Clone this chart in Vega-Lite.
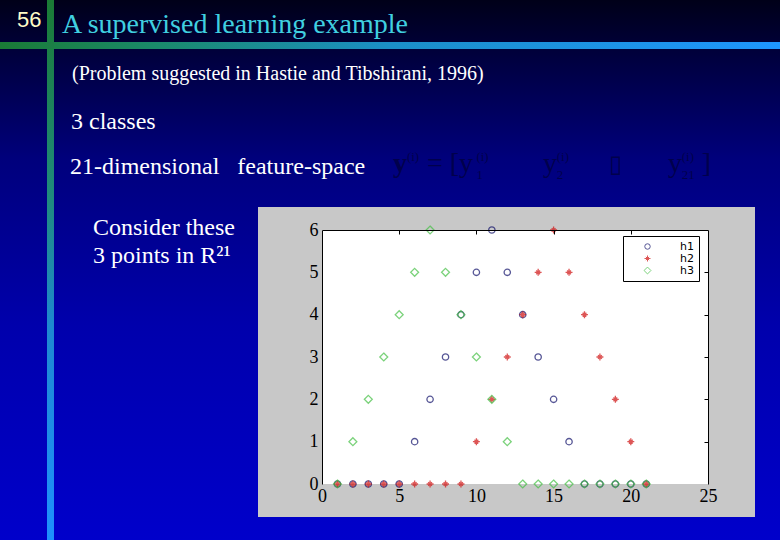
{
  "$schema": "https://vega.github.io/schema/vega-lite/v6.json",
  "width": 386,
  "height": 254,
  "autosize": {"type": "none"},
  "padding": {"left": 322, "top": 230, "right": 72, "bottom": 56},
  "background": "#000070",
  "view": {"stroke": null},
  "datasets": {
    "one": [{}],
    "waves": [
    {"i":1,"h":"h1","v":0},{"i":2,"h":"h1","v":0},{"i":3,"h":"h1","v":0},{"i":4,"h":"h1","v":0},{"i":5,"h":"h1","v":0},{"i":6,"h":"h1","v":1},{"i":7,"h":"h1","v":2},{"i":8,"h":"h1","v":3},{"i":9,"h":"h1","v":4},{"i":10,"h":"h1","v":5},{"i":11,"h":"h1","v":6},{"i":12,"h":"h1","v":5},{"i":13,"h":"h1","v":4},{"i":14,"h":"h1","v":3},{"i":15,"h":"h1","v":2},{"i":16,"h":"h1","v":1},{"i":17,"h":"h1","v":0},{"i":18,"h":"h1","v":0},{"i":19,"h":"h1","v":0},{"i":20,"h":"h1","v":0},{"i":21,"h":"h1","v":0},
    {"i":1,"h":"h2","v":0},{"i":2,"h":"h2","v":0},{"i":3,"h":"h2","v":0},{"i":4,"h":"h2","v":0},{"i":5,"h":"h2","v":0},{"i":6,"h":"h2","v":0},{"i":7,"h":"h2","v":0},{"i":8,"h":"h2","v":0},{"i":9,"h":"h2","v":0},{"i":10,"h":"h2","v":1},{"i":11,"h":"h2","v":2},{"i":12,"h":"h2","v":3},{"i":13,"h":"h2","v":4},{"i":14,"h":"h2","v":5},{"i":15,"h":"h2","v":6},{"i":16,"h":"h2","v":5},{"i":17,"h":"h2","v":4},{"i":18,"h":"h2","v":3},{"i":19,"h":"h2","v":2},{"i":20,"h":"h2","v":1},{"i":21,"h":"h2","v":0},
    {"i":1,"h":"h3","v":0},{"i":2,"h":"h3","v":1},{"i":3,"h":"h3","v":2},{"i":4,"h":"h3","v":3},{"i":5,"h":"h3","v":4},{"i":6,"h":"h3","v":5},{"i":7,"h":"h3","v":6},{"i":8,"h":"h3","v":5},{"i":9,"h":"h3","v":4},{"i":10,"h":"h3","v":3},{"i":11,"h":"h3","v":2},{"i":12,"h":"h3","v":1},{"i":13,"h":"h3","v":0},{"i":14,"h":"h3","v":0},{"i":15,"h":"h3","v":0},{"i":16,"h":"h3","v":0},{"i":17,"h":"h3","v":0},{"i":18,"h":"h3","v":0},{"i":19,"h":"h3","v":0},{"i":20,"h":"h3","v":0},{"i":21,"h":"h3","v":0}
    ]
  },
  "data": {"name": "one"},
  "resolve": {"axis": {"x": "independent", "y": "independent"}},
  "layer": [
    {
      "mark": {"type": "rect", "clip": false, "fill": {"gradient": "linear", "x1": 0, "y1": 0, "x2": 0, "y2": 1, "stops": [
        {"offset": 0, "color": "#000014"}, {"offset": 0.12, "color": "#000040"}, {"offset": 0.3, "color": "#00007c"}, {"offset": 0.6, "color": "#0000ac"}, {"offset": 1, "color": "#0000cc"}]}},
      "encoding": {
        "x": {"datum": -21, "type": "quantitative", "axis": null}, "x2": {"datum": 30},
        "y": {"datum": 11.6, "type": "quantitative", "axis": null}, "y2": {"datum": -1.5}
      }
    },
    {
      "mark": {"type": "rect", "clip": false, "fill": {"gradient": "linear", "x1": 0, "y1": 0, "x2": 1, "y2": 0, "stops": [
        {"offset": 0, "color": "#1a7a35"}, {"offset": 0.2, "color": "#1a8a6a"}, {"offset": 0.5, "color": "#1b8fc8"}, {"offset": 1, "color": "#1e96ff"}]}},
      "encoding": {
        "x": {"datum": -21, "type": "quantitative", "axis": null}, "x2": {"datum": 30},
        "y": {"datum": 10.442, "type": "quantitative", "axis": null}, "y2": {"datum": 10.276}
      }
    },
    {
      "mark": {"type": "rect", "clip": false, "fill": {"gradient": "linear", "x1": 0, "y1": 0, "x2": 0, "y2": 1, "stops": [
        {"offset": 0, "color": "#1a7a32"}, {"offset": 0.37, "color": "#1f8a7e"}, {"offset": 0.6, "color": "#1e88d0"}, {"offset": 1, "color": "#1e90ff"}]}},
      "encoding": {
        "x": {"datum": -17.811, "type": "quantitative", "axis": null}, "x2": {"datum": -17.358},
        "y": {"datum": 11.6, "type": "quantitative", "axis": null}, "y2": {"datum": -1.5}
      }
    },
    {
      "mark": {"type": "text", "clip": false, "align": "left", "baseline": "alphabetic", "font": "Liberation Sans", "fontSize": 22, "color": "#fffcc8"},
      "encoding": {"x": {"datum": -19.754, "type": "quantitative", "axis": null}, "y": {"datum": 10.796, "type": "quantitative", "axis": null}, "text": {"value": "56"}}
    },
    {
      "mark": {"type": "text", "clip": false, "align": "left", "baseline": "alphabetic", "font": "Liberation Serif", "fontSize": 28, "color": "#40d0e0"},
      "encoding": {"x": {"datum": -16.839, "type": "quantitative", "axis": null}, "y": {"datum": 10.654, "type": "quantitative", "axis": null}, "text": {"value": "A supervised learning example"}}
    },
    {
      "mark": {"type": "text", "clip": false, "align": "left", "baseline": "alphabetic", "font": "Liberation Serif", "fontSize": 20, "color": "#ffffff"},
      "encoding": {"x": {"datum": -16.192, "type": "quantitative", "axis": null}, "y": {"datum": 9.544, "type": "quantitative", "axis": null}, "text": {"value": "(Problem suggested in Hastie and Tibshirani, 1996)"}}
    },
    {
      "mark": {"type": "text", "clip": false, "align": "left", "baseline": "alphabetic", "font": "Liberation Serif", "fontSize": 24, "color": "#ffffff"},
      "encoding": {"x": {"datum": -16.256, "type": "quantitative", "axis": null}, "y": {"datum": 8.387, "type": "quantitative", "axis": null}, "text": {"value": "3 classes"}}
    },
    {
      "mark": {"type": "text", "clip": false, "align": "left", "baseline": "alphabetic", "font": "Liberation Serif", "fontSize": 24, "color": "#ffffff"},
      "encoding": {"x": {"datum": -16.321, "type": "quantitative", "axis": null}, "y": {"datum": 7.323, "type": "quantitative", "axis": null}, "text": {"value": "21-dimensional \u00a0 feature-space"}}
    },
    {
      "mark": {"type": "text", "clip": false, "align": "left", "baseline": "alphabetic", "font": "Liberation Serif", "fontSize": 28, "fontWeight": "bold", "color": "#00004c"},
      "encoding": {"x": {"datum": 4.598, "type": "quantitative", "axis": null}, "y": {"datum": 7.371, "type": "quantitative", "axis": null}, "text": {"value": "y"}}
    },
    {
      "mark": {"type": "text", "clip": false, "align": "left", "baseline": "alphabetic", "font": "Liberation Serif", "fontSize": 13, "color": "#00004c"},
      "encoding": {"x": {"datum": 5.5, "type": "quantitative", "axis": null}, "y": {"datum": 7.62, "type": "quantitative", "axis": null}, "text": {"value": "(i)"}}
    },
    {
      "mark": {"type": "text", "clip": false, "align": "left", "baseline": "alphabetic", "font": "Liberation Serif", "fontSize": 28, "color": "#00004c"},
      "encoding": {"x": {"datum": 6.8, "type": "quantitative", "axis": null}, "y": {"datum": 7.371, "type": "quantitative", "axis": null}, "text": {"value": "= [y"}}
    },
    {
      "mark": {"type": "text", "clip": false, "align": "left", "baseline": "alphabetic", "font": "Liberation Serif", "fontSize": 13, "color": "#00004c"},
      "encoding": {"x": {"datum": 10.0, "type": "quantitative", "axis": null}, "y": {"datum": 7.62, "type": "quantitative", "axis": null}, "text": {"value": "(i)"}}
    },
    {
      "mark": {"type": "text", "clip": false, "align": "left", "baseline": "alphabetic", "font": "Liberation Serif", "fontSize": 13, "color": "#00004c"},
      "encoding": {"x": {"datum": 10.0, "type": "quantitative", "axis": null}, "y": {"datum": 7.2, "type": "quantitative", "axis": null}, "text": {"value": "1"}}
    },
    {
      "mark": {"type": "text", "clip": false, "align": "left", "baseline": "alphabetic", "font": "Liberation Serif", "fontSize": 28, "color": "#00004c"},
      "encoding": {"x": {"datum": 14.313, "type": "quantitative", "axis": null}, "y": {"datum": 7.371, "type": "quantitative", "axis": null}, "text": {"value": "y"}}
    },
    {
      "mark": {"type": "text", "clip": false, "align": "left", "baseline": "alphabetic", "font": "Liberation Serif", "fontSize": 13, "color": "#00004c"},
      "encoding": {"x": {"datum": 15.2, "type": "quantitative", "axis": null}, "y": {"datum": 7.62, "type": "quantitative", "axis": null}, "text": {"value": "(i)"}}
    },
    {
      "mark": {"type": "text", "clip": false, "align": "left", "baseline": "alphabetic", "font": "Liberation Serif", "fontSize": 13, "color": "#00004c"},
      "encoding": {"x": {"datum": 15.2, "type": "quantitative", "axis": null}, "y": {"datum": 7.2, "type": "quantitative", "axis": null}, "text": {"value": "2"}}
    },
    {
      "mark": {"type": "text", "clip": false, "align": "left", "baseline": "alphabetic", "font": "Liberation Serif", "fontSize": 24, "color": "#00004c"},
      "encoding": {"x": {"datum": 18.588, "type": "quantitative", "axis": null}, "y": {"datum": 7.371, "type": "quantitative", "axis": null}, "text": {"value": "▯"}}
    },
    {
      "mark": {"type": "text", "clip": false, "align": "left", "baseline": "alphabetic", "font": "Liberation Serif", "fontSize": 28, "color": "#00004c"},
      "encoding": {"x": {"datum": 22.409, "type": "quantitative", "axis": null}, "y": {"datum": 7.371, "type": "quantitative", "axis": null}, "text": {"value": "y"}}
    },
    {
      "mark": {"type": "text", "clip": false, "align": "left", "baseline": "alphabetic", "font": "Liberation Serif", "fontSize": 13, "color": "#00004c"},
      "encoding": {"x": {"datum": 23.3, "type": "quantitative", "axis": null}, "y": {"datum": 7.62, "type": "quantitative", "axis": null}, "text": {"value": "(i)"}}
    },
    {
      "mark": {"type": "text", "clip": false, "align": "left", "baseline": "alphabetic", "font": "Liberation Serif", "fontSize": 13, "color": "#00004c"},
      "encoding": {"x": {"datum": 23.3, "type": "quantitative", "axis": null}, "y": {"datum": 7.2, "type": "quantitative", "axis": null}, "text": {"value": "21"}}
    },
    {
      "mark": {"type": "text", "clip": false, "align": "left", "baseline": "alphabetic", "font": "Liberation Serif", "fontSize": 28, "color": "#00004c"},
      "encoding": {"x": {"datum": 24.6, "type": "quantitative", "axis": null}, "y": {"datum": 7.371, "type": "quantitative", "axis": null}, "text": {"value": "]"}}
    },
    {
      "mark": {"type": "text", "clip": false, "align": "left", "baseline": "alphabetic", "font": "Liberation Serif", "fontSize": 24, "color": "#ffffff"},
      "encoding": {"x": {"datum": -14.832, "type": "quantitative", "axis": null}, "y": {"datum": 5.882, "type": "quantitative", "axis": null}, "text": {"value": "Consider these"}}
    },
    {
      "mark": {"type": "text", "clip": false, "align": "left", "baseline": "alphabetic", "font": "Liberation Serif", "fontSize": 24, "color": "#ffffff"},
      "encoding": {"x": {"datum": -14.832, "type": "quantitative", "axis": null}, "y": {"datum": 5.221, "type": "quantitative", "axis": null}, "text": {"value": "3 points in R²¹"}}
    },
    {
      "mark": {"type": "rect", "clip": false, "fill": "#c8c8c8"},
      "encoding": {
        "x": {"datum": -4.145, "type": "quantitative", "axis": null}, "x2": {"datum": 28.044},
        "y": {"datum": 6.544, "type": "quantitative", "axis": null}, "y2": {"datum": -0.78}
      }
    },
    {
      "mark": {"type": "rect", "clip": false, "fill": "#ffffff"},
      "encoding": {
        "x": {"datum": 0, "type": "quantitative", "axis": {"orient": "top", "labels": false, "domain": true, "domainColor": "#000000", "domainWidth": 1, "ticks": true, "tickColor": "#000000", "tickSize": -4, "values": [5, 10, 15, 20], "grid": false, "title": null, "zindex": 1}},
        "x2": {"datum": 25},
        "y": {"datum": 0, "type": "quantitative", "axis": {"orient": "right", "labels": false, "domain": true, "domainColor": "#000000", "domainWidth": 1, "ticks": true, "tickColor": "#000000", "tickSize": -4, "values": [1, 2, 3, 4, 5], "grid": false, "title": null, "zindex": 1}},
        "y2": {"datum": 6}
      }
    },
    {
      "data": {"name": "waves"},
      "mark": {"type": "point", "filled": false, "size": 40, "strokeWidth": 1.3, "clip": false},
      "encoding": {
        "x": {"field": "i", "type": "quantitative", "scale": {"domain": [0, 25], "nice": false, "zero": false},
          "axis": {"orient": "bottom", "domain": false, "ticks": false, "grid": false, "title": null, "values": [0, 5, 10, 15, 20, 25], "labelFont": "Liberation Serif", "labelFontSize": 18, "labelColor": "#000000", "labelPadding": 3, "labelFlush": false, "zindex": 1}},
        "y": {"field": "v", "type": "quantitative", "scale": {"domain": [0, 6], "nice": false, "zero": false},
          "axis": {"orient": "left", "domain": true, "domainColor": "#000000", "ticks": false, "grid": false, "title": null, "values": [0, 1, 2, 3, 4, 5, 6], "labelFont": "Liberation Serif", "labelFontSize": 18, "labelColor": "#000000", "labelPadding": 4, "zindex": 1}},
        "color": {"field": "h", "type": "nominal", "scale": {"domain": ["h1", "h2", "h3"], "range": ["#10106a", "#d01010", "#44c044"]},
          "legend": {"title": null, "orient": "none", "legendX": 301, "legendY": 6, "padding": 5, "fillColor": "#ffffff", "strokeColor": "#000000", "symbolOffset": 14, "labelOffset": 27, "labelFont": "DejaVu Sans", "labelFontSize": 11, "labelColor": "#000000", "rowPadding": 0, "symbolSize": 30, "symbolStrokeWidth": 1}},
        "shape": {"field": "h", "type": "nominal", "scale": {"domain": ["h1", "h2", "h3"], "range": ["circle", "M-1.1,0L1.1,0M0,-1.1L0,1.1M-0.6,-0.6L0.6,0.6M-0.6,0.6L0.6,-0.6", "M0,-1.25L1.25,0L0,1.25L-1.25,0Z"]}}
      }
    }
  ]
}
